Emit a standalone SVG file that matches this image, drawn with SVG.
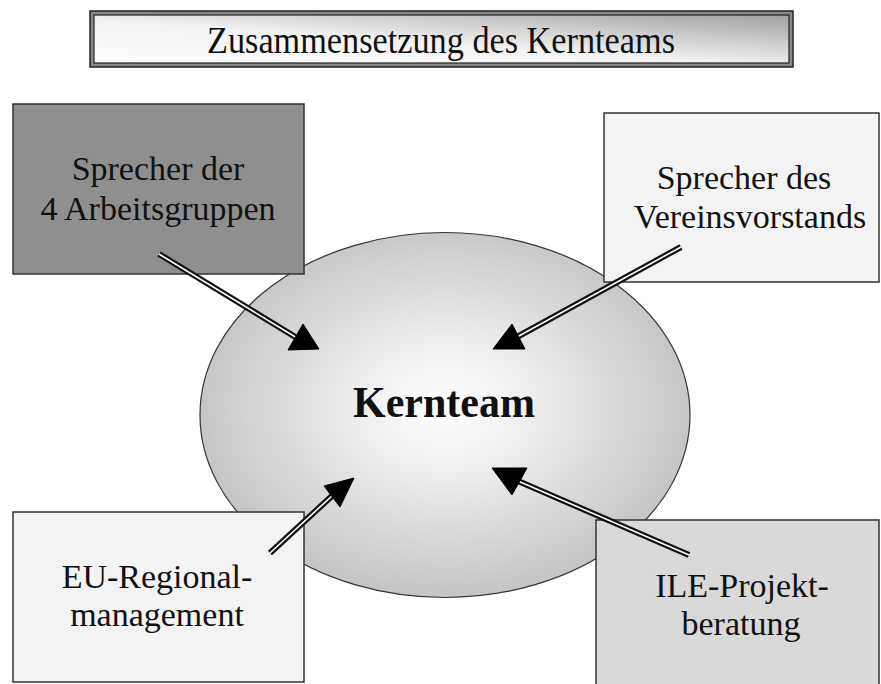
<svg xmlns="http://www.w3.org/2000/svg" width="881" height="684" viewBox="0 0 881 684">
  <defs>
    <linearGradient id="titleGrad" x1="0" y1="1" x2="1" y2="0">
      <stop offset="0" stop-color="#ffffff"/>
      <stop offset="0.45" stop-color="#f2f2f2"/>
      <stop offset="1" stop-color="#a0a0a0"/>
    </linearGradient>
    <radialGradient id="ellGrad" cx="0.5" cy="0.48" r="0.5">
      <stop offset="0" stop-color="#ffffff"/>
      <stop offset="0.4" stop-color="#ececec"/>
      <stop offset="1" stop-color="#c6c6c6"/>
    </radialGradient>
    <style>
      .lbl { font-family: "Liberation Serif", "Times New Roman", serif; font-size: 34px; fill: #111; text-anchor: middle; }
      .box { stroke: #333; stroke-width: 1.5; }
      .outer { stroke: #111; stroke-width: 6; stroke-linecap: butt; fill: none; }
      .inner { stroke: #fff; stroke-width: 1.6; stroke-linecap: butt; fill: none; }
      .head { fill: #000; stroke: #000; stroke-width: 1; stroke-linejoin: miter; }
    </style>
  </defs>
  <rect width="881" height="684" fill="#ffffff"/>

  <g id="title">
    <rect x="90" y="11" width="703" height="56" fill="#8a8a8a" stroke="#222" stroke-width="1.5"/>
    <rect x="94" y="15" width="695" height="48" fill="url(#titleGrad)" stroke="#222" stroke-width="1.2"/>
    <text x="441" y="53" class="lbl" style="font-size:38px" textLength="468" lengthAdjust="spacingAndGlyphs">Zusammensetzung des Kernteams</text>
  </g>

  <g id="kernteam">
    <ellipse cx="445" cy="415" rx="245" ry="182.5" fill="url(#ellGrad)" stroke="#333" stroke-width="1.2"/>
    <text x="444" y="417" class="lbl" style="font-size:44px;font-weight:bold" textLength="182" lengthAdjust="spacingAndGlyphs">Kernteam</text>
  </g>

  <g id="arbeitsgruppen">
    <rect x="13" y="104" width="291" height="170" class="box" fill="#8f8f8f"/>
    <text x="158" y="180" class="lbl">Sprecher der</text>
    <text x="158" y="220" class="lbl">4 Arbeitsgruppen</text>
  </g>

  <g id="vereinsvorstand">
    <rect x="604" y="113" width="275" height="169" class="box" fill="#f3f3f3"/>
    <text x="744" y="189" class="lbl">Sprecher des</text>
    <text x="750" y="228" class="lbl">Vereinsvorstands</text>
  </g>

  <g id="regionalmanagement">
    <rect x="13" y="512" width="291" height="170" class="box" fill="#f3f3f3"/>
    <text x="157" y="588" class="lbl">EU-Regional-</text>
    <text x="157" y="626" class="lbl">management</text>
  </g>

  <g id="projektberatung">
    <rect x="596" y="520" width="283" height="170" class="box" fill="#d9d9d9"/>
    <text x="742" y="597" class="lbl">ILE-Projekt-</text>
    <text x="741" y="635" class="lbl">beratung</text>
  </g>

  <g id="connectors">
    <line x1="159" y1="254" x2="297" y2="338" class="outer"/>
    <line x1="159" y1="254" x2="297" y2="338" class="inner"/>
    <polygon points="303,324 288,350 319,349" class="head"/>

    <line x1="681" y1="247" x2="517" y2="337" class="outer"/>
    <line x1="681" y1="247" x2="517" y2="337" class="inner"/>
    <polygon points="512,324 493,349 525,349" class="head"/>

    <line x1="270" y1="553" x2="333" y2="495" class="outer"/>
    <line x1="270" y1="553" x2="333" y2="495" class="inner"/>
    <polygon points="354,478 324,486 340,507" class="head"/>

    <line x1="689" y1="555" x2="518" y2="481" class="outer"/>
    <line x1="689" y1="555" x2="518" y2="481" class="inner"/>
    <polygon points="492,468 527,468 512,495" class="head"/>
  </g>
</svg>
